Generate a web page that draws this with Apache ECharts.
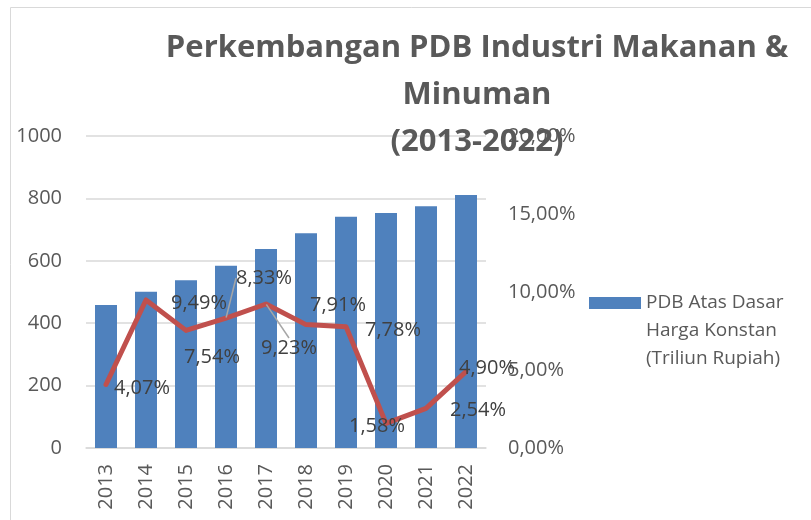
<!DOCTYPE html>
<html lang="id">
<head>
    <meta charset="UTF-8">
    <title>Perkembangan PDB Industri Makanan & Minuman</title>
    <script src="https://cdn.jsdelivr.net/npm/echarts@6/dist/echarts.min.js"></script>
    <style>
        html, body {
            margin: 0;
            padding: 0;
            background: #fff;
        }

        #main {
            width: 811px;
            height: 520px;
        }
    </style>
</head>
<body>
<div id="main"></div>
<script>
    // data
    let years = ['2013', '2014', '2015', '2016', '2017', '2018', '2019', '2020', '2021', '2022'];
    let pdbValues = [458, 501, 538, 584, 638, 688, 741, 753, 775, 811];
    let growthValues = [4.07, 9.49, 7.54, 8.33, 9.23, 7.91, 7.78, 1.58, 2.54, 4.90];
    let leftTicks = [0, 200, 400, 600, 800, 1000];
    let rightTicks = [0, 5, 10, 15, 20];
    let barName = 'PDB Atas Dasar\nHarga Konstan\n(Triliun Rupiah)';

    // geser label (mirip posisi label Excel)
    let labelShift = [
        [36, 4], [53, 3], [26, 27], [38, -40], [23, 44],
        [32, -19], [47, 4], [-9, 3], [52, 2], [21, -3]
    ];
    let leaderIdx = [3, 4];

    let font = '"Open Sans", "Noto Sans", sans-serif';
    let txtColor = '#595959';

    function pct(v) {
        return Number(v).toFixed(2).replace('.', ',') + '%';
    }

    let lineData = growthValues.map((v, i) => {
        let item = {value: v};
        if (leaderIdx.indexOf(i) >= 0) {
            item.labelLine = {show: true};
        }
        return item;
    });

    let myChart = echarts.init(document.getElementById('main'), null, {renderer: 'canvas'});

    let option = {
        animation: false,
        textStyle: {fontFamily: font},
        graphic: [{
            type: 'rect',
            shape: {x: 10.5, y: 7.5, width: 900, height: 600},
            style: {fill: 'none', stroke: '#d9d9d9', lineWidth: 1},
            z: -1
        }],
        title: {
            text: 'Perkembangan PDB Industri Makanan &\nMinuman\n(2013-2022)',
            left: 472,
            top: 20,
            textAlign: 'center',
            z: 10,
            textStyle: {
                fontFamily: font,
                fontSize: 31,
                fontWeight: 'bold',
                color: txtColor,
                lineHeight: 47
            }
        },
        legend: {
            data: [barName],
            left: 589,
            top: 233,
            padding: 0,
            itemWidth: 52,
            itemHeight: 12,
            icon: 'rect',
            selectedMode: false,
            // dua baris kosong di atas supaya ikon sejajar dengan baris pertama
            formatter: name => '\n\n' + name,
            textStyle: {
                fontFamily: font,
                fontSize: 19,
                color: txtColor,
                lineHeight: 28
            }
        },
        grid: {
            left: 86,
            right: 325,
            top: 136,
            bottom: 72
        },
        xAxis: {
            type: 'category',
            data: years,
            axisLine: {show: true, lineStyle: {color: '#d9d9d9', width: 1.5}},
            axisTick: {show: false},
            axisLabel: {
                rotate: 90,
                margin: 16,
                fontFamily: font,
                fontSize: 20,
                color: txtColor
            }
        },
        yAxis: [
            {
                type: 'value',
                min: leftTicks[0],
                max: leftTicks[leftTicks.length - 1],
                interval: leftTicks[1] - leftTicks[0],
                axisLine: {show: false},
                axisTick: {show: false},
                splitLine: {lineStyle: {color: '#d9d9d9', width: 1.5}},
                axisLabel: {
                    margin: 24,
                    fontFamily: font,
                    fontSize: 20,
                    color: txtColor,
                    formatter: v => String(v)
                }
            },
            {
                type: 'value',
                position: 'right',
                min: rightTicks[0],
                max: rightTicks[rightTicks.length - 1],
                interval: rightTicks[1] - rightTicks[0],
                axisLine: {show: false},
                axisTick: {show: false},
                splitLine: {show: false},
                axisLabel: {
                    margin: 22,
                    fontFamily: font,
                    fontSize: 20,
                    color: txtColor,
                    formatter: pct
                }
            }
        ],
        series: [
            {
                name: barName,
                type: 'bar',
                data: pdbValues,
                barWidth: 22,
                itemStyle: {color: '#4f81bd'},
                z: 2
            },
            {
                name: 'Pertumbuhan',
                type: 'line',
                yAxisIndex: 1,
                data: lineData,
                symbol: 'circle',
                symbolSize: 1,
                showSymbol: true,
                itemStyle: {color: '#c0504d'},
                lineStyle: {color: '#c0504d', width: 5, cap: 'round', join: 'round'},
                z: 5,
                label: {
                    show: true,
                    position: 'inside',
                    fontFamily: font,
                    fontSize: 20,
                    color: '#404040',
                    formatter: p => pct(p.value)
                },
                labelLine: {
                    show: false,
                    lineStyle: {color: '#a6a6a6', width: 1.5}
                },
                labelLayout: function (params) {
                    let s = labelShift[params.dataIndex];
                    return {dx: s[0], dy: s[1]};
                }
            }
        ]
    };

    myChart.setOption(option);
</script>
</body>
</html>
